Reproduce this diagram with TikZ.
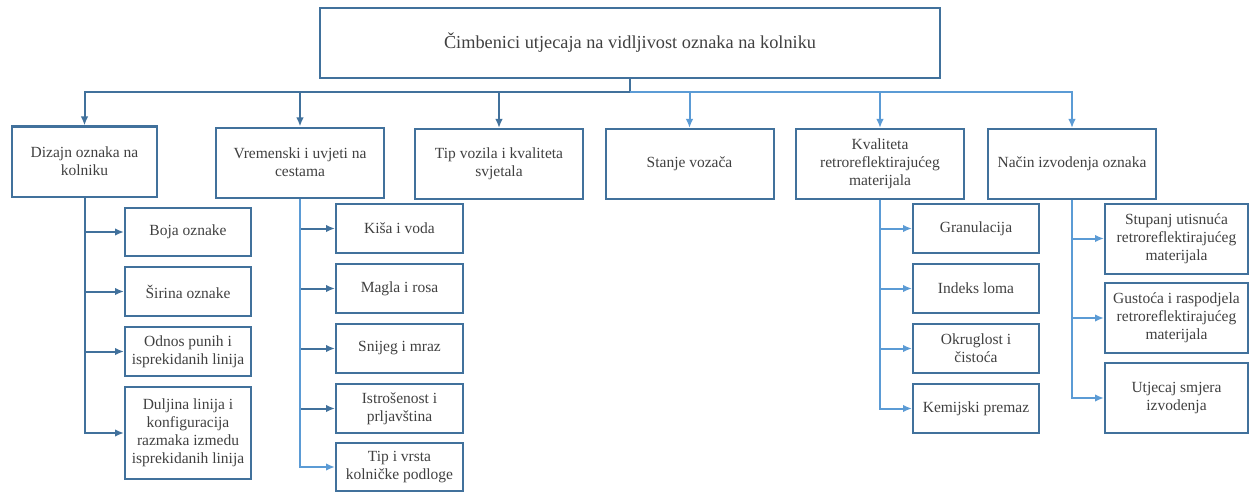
\documentclass[tikz,border=0pt]{standalone}
\usepackage{fontspec}
\setmainfont{Liberation Serif}
\usetikzlibrary{arrows.meta}

\definecolor{boxblue}{HTML}{41719C}
\definecolor{linkdark}{HTML}{41719C}
\definecolor{linklight}{HTML}{5B9BD5}
\definecolor{txtgray}{HTML}{404040}

\tikzset{
 box/.style={draw=boxblue, line width=2pt, align=center, text=txtgray,
   font=\fontsize{15.5}{18}\selectfont, inner sep=2pt},
 head/.style={box, minimum width=168pt, minimum height=70pt},
 leaf/.style={box, minimum width=127pt, minimum height=49pt},
 link/.style={-{Latex[length=9pt,width=7.5pt]}, draw=linkdark, line width=2pt},
 lightlink/.style={link, draw=linklight},
}

\begin{document}
\begin{tikzpicture}[x=1pt, y=-1pt]
 \useasboundingbox (0,0) rectangle (1249,492);

 \node[box, minimum width=620pt, minimum height=70pt,
   font=\fontsize{18.3}{21}\selectfont] (root) at (630,43)
   {Čimbenici utjecaja na vidljivost oznaka na kolniku};

 % first level
 \node[head, minimum width=145pt] (dizajn) at (84.5,161.5) {Dizajn oznaka na\\kolniku};
 \node[head] (vrijeme) at (300,162.5) {Vremenski i uvjeti na\\cestama};
 \node[head] (vozilo) at (499,164) {Tip vozila i kvaliteta\\svjetala};
 \node[head] (vozac) at (689.5,164) {Stanje vozača};
 \node[head] (kvaliteta) at (880,164) {Kvaliteta\\retroreflektirajućeg\\materijala};
 \node[head] (nacin) at (1072,164) {Način izvodenja oznaka};

 % design
 \node[leaf, minimum width=126pt, minimum height=48pt] (boja) at (188,232) {Boja oznake};
 \node[leaf, minimum width=126pt] (sirina) at (188,291.5) {Širina oznake};
 \node[leaf, minimum width=126pt] (odnos) at (188,351.5) {Odnos punih i\\isprekidanih linija};
 \node[leaf, minimum width=126pt, minimum height=92pt] (duljina) at (188,433)
   {Duljina linija i\\konfiguracija\\razmaka izmedu\\isprekidanih linija};

 % weather
 \node[leaf] (kisa) at (399.5,228.5) {Kiša i voda};
 \node[leaf] (magla) at (399.5,288.5) {Magla i rosa};
 \node[leaf] (snijeg) at (399.5,348.5) {Snijeg i mraz};
 \node[leaf] (istrosenost) at (399.5,408.5) {Istrošenost i\\prljavština};
 \node[leaf, minimum height=48pt] (podloga) at (399.5,467) {Tip i vrsta\\kolničke podloge};

 % material
 \node[leaf, minimum width=126pt] (granulacija) at (976,228.5) {Granulacija};
 \node[leaf, minimum width=126pt] (indeks) at (976,288.5) {Indeks loma};
 \node[leaf, minimum width=126pt] (okruglost) at (976,348.5) {Okruglost i\\čistoća};
 \node[leaf, minimum width=126pt] (premaz) at (976,408.5) {Kemijski premaz};

 % application
 \node[leaf, minimum width=143pt, minimum height=70pt] (stupanj) at (1176.5,238.5)
   {Stupanj utisnuća\\retroreflektirajućeg\\materijala};
 \node[leaf, minimum width=143pt, minimum height=70pt] (gustoca) at (1176.5,318)
   {Gustoća i raspodjela\\retroreflektirajućeg\\materijala};
 \node[leaf, minimum width=143pt, minimum height=70pt] (utjecaj) at (1176.5,398)
   {Utjecaj smjera\\izvodenja};

 \coordinate (bus) at (630,92);
 \draw [draw=linkdark, line width=2pt] (root) -- (bus);
 \foreach \c in {dizajn,vrijeme,vozilo}
   \draw [link] (bus) -| (\c);
 \foreach \c in {vozac,kvaliteta,nacin}
   \draw [lightlink] (bus) -| (\c);

 \foreach \c in {boja,sirina,odnos,duljina}
   \draw [link] (dizajn) |- (\c);
 \foreach \c in {kisa,magla,snijeg,istrosenost}
   \draw [link] (vrijeme) |- (\c);
 \draw [lightlink] (vrijeme) |- (podloga);
 \foreach \c in {granulacija,indeks,okruglost,premaz}
   \draw [lightlink] (kvaliteta) |- (\c);
 \foreach \c in {stupanj,gustoca,utjecaj}
   \draw [lightlink] (nacin) |- (\c);
\end{tikzpicture}
\end{document}
